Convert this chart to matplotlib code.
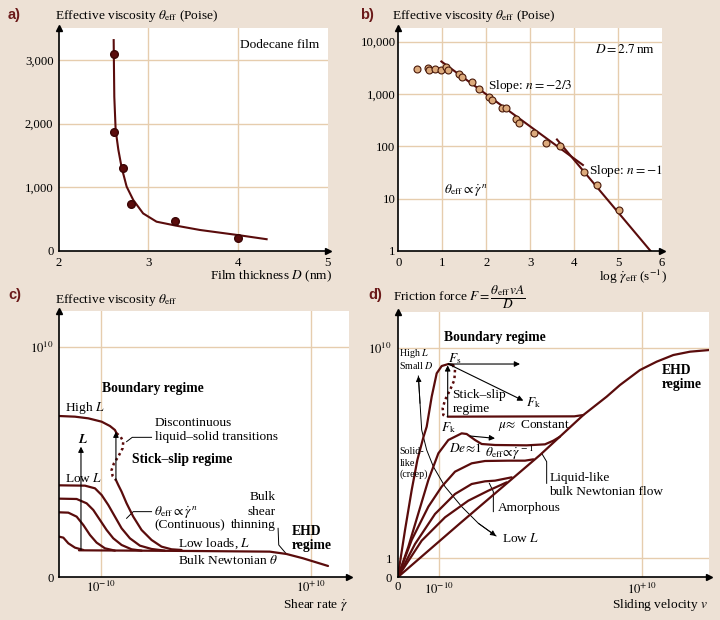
import matplotlib
matplotlib.use("Agg")
import matplotlib.pyplot as plt
from matplotlib.ticker import NullLocator

plt.rcParams['font.family'] = ['Liberation Serif', 'DejaVu Serif']
plt.rcParams['mathtext.fontset'] = 'stix'
plt.rcParams['font.size'] = 9.6

# ---------------- data ----------------
# a) effective viscosity vs film thickness (dodecane film)
a_thickness = [2.61, 2.61, 2.71, 2.80, 3.30, 4.00]
a_viscosity = [3090, 1870, 1310, 740, 470, 205]
a_fit_thickness = [2.611, 2.614, 2.618, 2.633, 2.663, 2.70, 2.756, 2.83, 2.94, 3.09, 3.30, 3.575, 4.0, 4.32]
a_fit_viscosity = [3310, 2900, 2420, 1900, 1590, 1310, 1010, 800, 590, 460, 400, 330, 250, 185]

# b) effective viscosity vs log shear rate (D = 2.7 nm)
b_log_rate = [0.42, 0.68, 0.70, 0.83, 0.97, 1.08, 1.14, 1.38, 1.45, 1.68, 1.84, 2.07,
              2.14, 2.37, 2.45, 2.67, 2.74, 3.08, 3.37, 3.67, 4.23, 4.53, 5.02]
b_viscosity = [2950, 3090, 2880, 3020, 2880, 3240, 2820, 2400, 2140, 1660, 1230, 890,
               780, 550, 550, 330, 275, 182, 117, 102, 33, 18, 6.0]
b_fit1_log_rate = [0.98, 4.20]
b_fit1_viscosity = [4170, 44]
b_fit2_log_rate = [3.61, 5.74]
b_fit2_viscosity = [135, 1]

# c) schematic: effective viscosity vs shear rate (arbitrary units)
c_high1_x = [0, 48, 88, 128, 153, 168, 173]
c_high1_y = [484, 482, 477, 467, 454, 442, 432]
c_jump_x = [173, 185, 193, 191, 178, 165, 158, 161, 171]
c_jump_y = [432, 422, 407, 387, 362, 342, 322, 304, 292]
c_high2_x = [171, 178, 188, 203, 223, 248, 278, 308, 338, 368]
c_high2_y = [292, 277, 257, 222, 182, 142, 112, 92, 84, 82]
c_l1_x = [0, 78, 108, 128, 148, 168, 188, 213, 243, 278, 318]
c_l1_y = [276, 275, 267, 247, 217, 182, 147, 117, 95, 85, 80]
c_l2_x = [0, 53, 83, 103, 123, 143, 163, 188, 218, 248]
c_l2_y = [236, 235, 222, 202, 172, 142, 117, 97, 84, 80]
c_l3_x = [0, 28, 53, 73, 93, 113, 138, 168]
c_l3_y = [195, 194, 182, 157, 127, 104, 87, 80]
c_l4_x = [0, 13, 28, 48, 73]
c_l4_y = [122, 119, 102, 89, 82]
c_bulk_x = [60, 393, 633, 683, 733, 808]
c_bulk_y = [81, 79, 77, 70, 57, 34]

# d) schematic: friction force vs sliding velocity (arbitrary units)
d_main_x = [0, 187, 427, 557, 627, 667, 727, 777, 827, 877, 935]
d_main_y = [0, 162, 367, 487, 542, 577, 622, 647, 667, 677, 682]
d_high_x = [0, 22, 42, 59, 77, 87, 102, 117, 132, 152, 167]
d_high_y = [0, 142, 262, 352, 420, 452, 542, 612, 634, 640, 637]
d_jump_x = [165, 172, 170, 157, 142, 135, 137, 147]
d_jump_y = [638, 624, 592, 562, 532, 507, 487, 480]
d_kin_x = [150, 530, 557]
d_kin_y = [482, 483, 487]
d_de_x = [0, 32, 62, 92, 122, 152, 192, 207, 232, 252, 292, 387, 442, 467, 487]
d_de_y = [0, 92, 192, 292, 372, 412, 432, 430, 412, 400, 397, 396, 399, 410, 422]
d_c3_x = [0, 42, 92, 132, 172, 222, 262, 332, 382, 407]
d_c3_y = [0, 112, 212, 272, 317, 342, 349, 350, 350, 354]
d_c4_x = [0, 52, 112, 172, 222, 262, 292, 342]
d_c4_y = [0, 100, 190, 250, 280, 288, 290, 300]
d_c5_x = [0, 72, 142, 212, 272, 327]
d_c5_y = [0, 110, 180, 230, 260, 285]
d_load_x = [62, 67, 72, 87, 107, 142, 192, 242, 295]
d_load_y = [604, 522, 442, 382, 332, 272, 212, 162, 124]

# ---------------- style ----------------
BG = '#ede1d5'
GRID = '#e6cdae'
LINE = '#5a0c0c'
PLABEL = '#6b1a1a'
W, H = 720, 620
TICK = 9.2
BOLD = 9.8
SMALL = 7.2

fig = plt.figure(figsize=(7.2, 6.2), dpi=100, facecolor=BG)


def fx(px):
    return px / W


def fy(py):
    return 1 - py / H


def ftext(px, py, s, **kw):
    kw.setdefault('va', 'center')
    fig.text(fx(px), fy(py), s, **kw)


def make_axes(left, top, right, bottom):
    ax = fig.add_axes([fx(left), fy(bottom), (right - left) / W, (bottom - top) / H])
    ax.set_facecolor('white')
    for s in ('top', 'right'):
        ax.spines[s].set_visible(False)
    for s in ('left', 'bottom'):
        ax.spines[s].set_linewidth(1.2)
        ax.spines[s].set_zorder(5)
    ax.tick_params(length=0, labelsize=TICK)
    ax.plot(0, 1, marker='^', color='black', ms=5, transform=ax.transAxes, clip_on=False, zorder=6)
    ax.plot(1, 0, marker='>', color='black', ms=5, transform=ax.transAxes, clip_on=False, zorder=6)
    return ax


def grid(ax, xs, ys):
    for x in xs:
        ax.axvline(x, color=GRID, lw=1.0, zorder=0)
    for y in ys:
        ax.axhline(y, color=GRID, lw=1.0, zorder=0)


def arrow(ax, start, end, lw=0.8, ms=8):
    ax.annotate('', xy=end, xytext=start,
                arrowprops=dict(arrowstyle='-|>', color='black', lw=lw,
                                mutation_scale=ms, shrinkA=0, shrinkB=0))


PL = dict(family=['Liberation Sans', 'DejaVu Sans'], weight='bold', color=PLABEL, fontsize=10.5)

# ---------------- panel a ----------------
ax = make_axes(59, 28, 328, 251)
ax.set_xlim(2, 5.006)
ax.set_ylim(0, 3500)
grid(ax, [3, 4], [1000, 2000, 3000])
ax.plot(a_fit_thickness, a_fit_viscosity, color=LINE, lw=1.5, zorder=3)
ax.plot(a_thickness, a_viscosity, 'o', color=LINE, mec='#3a0505', ms=5.5, zorder=4)
ax.set_xticks([2, 3, 4, 5], ['2', '3', '4', '5'])
ax.set_yticks([0, 1000, 2000, 3000], ['0', '1,000', '2,000', '3,000'])
ax.tick_params(axis='x', pad=4)
ax.tick_params(axis='y', pad=4)
ax.text(4.02, 3234, 'Dodecane film', ha='left', va='center')
ftext(8, 15, 'a)', **PL)
ftext(55, 16, r'Effective viscosity $\theta_{\rm eff}$ (Poise)')
ftext(332, 276, r'Film thickness $D$ (nm)', ha='right')

# ---------------- panel b ----------------
ax = make_axes(398.3, 28, 662, 251)
ax.set_yscale('log')
ax.set_xlim(0, 6)
ax.set_ylim(1, 10 ** 4.26)
grid(ax, [1, 2, 3, 4, 5], [10, 100, 1000, 10000])
ax.yaxis.set_minor_locator(NullLocator())
ax.plot(b_fit1_log_rate, b_fit1_viscosity, color=LINE, lw=1.5, zorder=3)
ax.plot(b_fit2_log_rate, b_fit2_viscosity, color=LINE, lw=1.5, zorder=3)
ax.plot(b_log_rate, b_viscosity, 'o', color='#dcaa7c', mec='#4a1a0a', mew=0.8, ms=5, zorder=4)
ax.set_xticks(range(7), [str(i) for i in range(7)])
ax.set_yticks([1, 10, 100, 1000, 10000], ['1', '10', '100', '1,000', '10,000'])
ax.tick_params(axis='x', pad=4)
ax.tick_params(axis='y', pad=2)
ax.text(4.47, 6950, r'$D = 2.7\,$nm', ha='left', va='center')
ax.text(2.05, 1390, r'Slope: $n = -2/3$', ha='left', va='center')
ax.text(4.34, 34, r'Slope: $n = -1$', ha='left', va='center')
ax.text(1.04, 14.7, r'$\theta_{\rm eff} \propto \dot{\gamma}^{\,n}$', ha='left', va='center')
ftext(360, 15, 'b)', **PL)
ftext(392, 16, r'Effective viscosity $\theta_{\rm eff}$ (Poise)')
ftext(667, 277, r'log $\dot{\gamma}_{\rm eff}$ (s$^{-1}$)', ha='right')

# ---------------- panel c ----------------
ax = make_axes(59, 310.7, 349, 577.3)
ax.set_xlim(0, 871)
ax.set_ylim(0, 800)
grid(ax, [126, 758], [692])
kw = dict(color=LINE, lw=1.6, zorder=3, solid_capstyle='round')
ax.plot(c_high1_x, c_high1_y, **kw)
ax.plot(c_jump_x, c_jump_y, color=LINE, lw=1.8, ls=(0, (1, 1.3)), zorder=3)
ax.plot(c_high2_x, c_high2_y, **kw)
for xs, ys in ((c_l1_x, c_l1_y), (c_l2_x, c_l2_y), (c_l3_x, c_l3_y), (c_l4_x, c_l4_y), (c_bulk_x, c_bulk_y)):
    ax.plot(xs, ys, **kw)
arrow(ax, (66, 82), (66, 392))
arrow(ax, (171, 292), (171, 437))
ax.plot([203, 220, 278], [407, 420, 420], color='black', lw=0.7)
ax.plot([203, 223, 278], [177, 197, 197], color='black', lw=0.7)
ax.plot([658, 660, 683], [147, 97, 70], color='black', lw=0.7)
ax.set_xticks([126, 758], [r'$10^{-10}$', r'$10^{+10}$'])
ax.set_yticks([0, 692], ['0', r'$10^{10}$'])
ax.tick_params(axis='x', pad=2)
ax.tick_params(axis='y', pad=4)
t = dict(ha='left', va='center')
ax.text(18, 507, r'High $L$', **t)
ax.text(18, 297, r'Low $L$', **t)
ax.text(57, 414, r'$\boldsymbol{L}$', **t)
ax.text(130, 567, 'Boundary regime', weight='bold', fontsize=BOLD, **t)
ax.text(288, 462, 'Discontinuous', **t)
ax.text(288, 422, 'liquid\u2013solid transitions', **t)
ax.text(218, 354, 'Stick\u2013slip regime', weight='bold', fontsize=BOLD, **t)
ax.text(285, 197, r'$\theta_{\rm eff} \propto \dot{\gamma}^{\,n}$', **t)
ax.text(285, 157, '(Continuous)', **t)
ax.text(650, 240, 'Bulk', ha='right', va='center')
ax.text(650, 197, 'shear', ha='right', va='center')
ax.text(650, 157, 'thinning', ha='right', va='center')
ax.text(698, 137, 'EHD', weight='bold', fontsize=BOLD, **t)
ax.text(698, 94, 'regime', weight='bold', fontsize=BOLD, **t)
ax.text(356, 100, r'Low loads, $L$', **t)
ax.text(356, 50, r'Bulk Newtonian $\theta$', **t)
ftext(8, 295, 'c)', **PL)
ftext(55, 300, r'Effective viscosity $\theta_{\rm eff}$')
ftext(348, 605, r'Shear rate $\dot{\gamma}$', ha='right')

# ---------------- panel d ----------------
ax = make_axes(397.7, 311.7, 709.3, 577.3)
ax.set_xlim(0, 935)
ax.set_ylim(0, 797)
grid(ax, [123, 732], [57, 689])
for xs, ys in ((d_main_x, d_main_y), (d_high_x, d_high_y), (d_kin_x, d_kin_y), (d_de_x, d_de_y),
               (d_c3_x, d_c3_y), (d_c4_x, d_c4_y), (d_c5_x, d_c5_y)):
    ax.plot(xs, ys, **kw)
ax.plot(d_jump_x, d_jump_y, color=LINE, lw=1.8, ls=(0, (1, 1.3)), zorder=3)
arrow(ax, (150, 482), (150, 636))
arrow(ax, (152, 640), (367, 640))
arrow(ax, (152, 640), (377, 530))
arrow(ax, (217, 424), (292, 417))
ax.plot(d_load_x, d_load_y, color='black', lw=0.7)
arrow(ax, (d_load_x[1], d_load_y[1]), (d_load_x[0], d_load_y[0]), lw=0.7)
arrow(ax, (d_load_x[-2], d_load_y[-2]), (d_load_x[-1], d_load_y[-1]), lw=0.7)
ax.plot([432, 447, 447], [372, 347, 282], color='black', lw=0.7)
ax.plot([275, 287, 287], [282, 257, 197], color='black', lw=0.7)
ax.set_xticks([0, 123, 732], ['0', r'$10^{-10}$', r'$10^{+10}$'])
ax.set_yticks([0, 57, 689], ['0', '1', r'$10^{10}$'])
ax.tick_params(axis='x', pad=3)
ax.tick_params(axis='y', pad=4)
ax.text(140, 719, 'Boundary regime', weight='bold', fontsize=BOLD, **t)
ax.text(5, 672, r'High $L$', fontsize=SMALL, **t)
ax.text(5, 637, r'Small $D$', fontsize=SMALL, **t)
ax.text(152, 657, r'$F_{\rm s}$', **t)
ax.text(385, 525, r'$F_{\rm k}$', **t)
ax.text(130, 450, r'$F_{\rm k}$', **t)
ax.text(164, 547, 'Stick\u2013slip', **t)
ax.text(164, 504, 'regime', **t)
ax.text(302, 457, r'$\mu\!\approx$ Constant', **t)
ax.text(5, 377, 'Solid-', fontsize=SMALL, **t)
ax.text(5, 342, 'like', fontsize=SMALL, **t)
ax.text(5, 309, '(creep)', fontsize=SMALL, **t)
ax.text(155, 387, r'$De\!\approx\!1$', **t)
ax.text(262, 372, r'$\theta_{\rm eff}\!\propto\!\dot{\gamma}^{\,-1}$', **t)
ax.text(455, 297, 'Liquid-like', **t)
ax.text(455, 257, 'bulk Newtonian flow', **t)
ax.text(302, 207, 'Amorphous', **t)
ax.text(312, 117, r'Low $L$', **t)
ax.text(792, 622, 'EHD', weight='bold', fontsize=BOLD, **t)
ax.text(792, 580, 'regime', weight='bold', fontsize=BOLD, **t)
ftext(368, 295, 'd)', **PL)
ftext(393, 297, r'Friction force $F = \dfrac{\theta_{\rm eff}\,vA}{D}$')
ftext(708, 605, r'Sliding velocity $v$', ha='right')

fig.savefig('out.png', dpi=100, facecolor=BG)
